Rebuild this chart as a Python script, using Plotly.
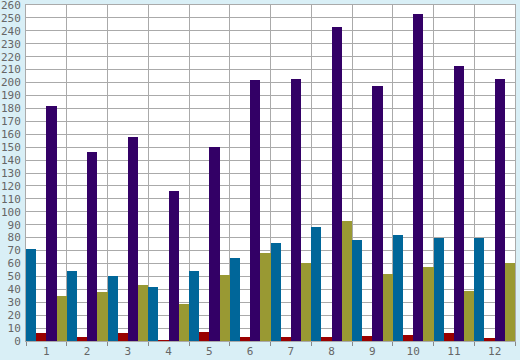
import plotly.graph_objects as go

categories = ["1", "2", "3", "4", "5", "6", "7", "8", "9", "10", "11", "12"]
series_blue = [71, 54, 50, 42, 54, 64, 76, 88, 78, 82, 80, 80]
series_red = [6, 3, 6, 0.5, 7, 3, 3, 3, 4, 5, 6, 2]
series_purple = [182, 146, 158, 116, 150, 202, 203, 243, 197, 253, 213, 203]
series_olive = [35, 38, 43, 29, 51, 68, 60, 93, 52, 57, 39, 60]

colors = ["#006699", "#990000", "#330066", "#999933"]

fig = go.Figure()
for vals, c in zip([series_blue, series_red, series_purple, series_olive], colors):
    fig.add_trace(go.Bar(x=categories, y=vals, marker=dict(color=c, line=dict(width=0)),
                         showlegend=False))

fig.update_layout(
    width=520, height=360,
    margin=dict(l=26, r=5, t=5, b=19, autoexpand=False),
    paper_bgcolor="#D9EFF6",
    plot_bgcolor="#FFFFFF",
    barmode="group", bargap=0, bargroupgap=0,
    font=dict(family="DejaVu Sans Mono", size=11, color="#666666"),
)
fig.update_xaxes(
    type="category", tickson="boundaries", ticks="outside", ticklen=4,
    tickcolor="#888888", showgrid=True, gridcolor="#AAAAAA", gridwidth=1,
    showline=True, linecolor="#AAAAAA", mirror=True, automargin=False,
    ticklabelstandoff=0,
)
fig.update_yaxes(
    range=[0, 260], dtick=10, showgrid=True, gridcolor="#AAAAAA", gridwidth=1,
    showline=True, linecolor="#AAAAAA", mirror=True, ticks="", zeroline=False,
    ticklabelstandoff=2, automargin=False, ticklabeloverflow="allow",
)
fig.write_html("out.html", config={"displayModeBar": False},
               post_script="document.body.style.margin='0';document.body.style.background='#D9EFF6';")
